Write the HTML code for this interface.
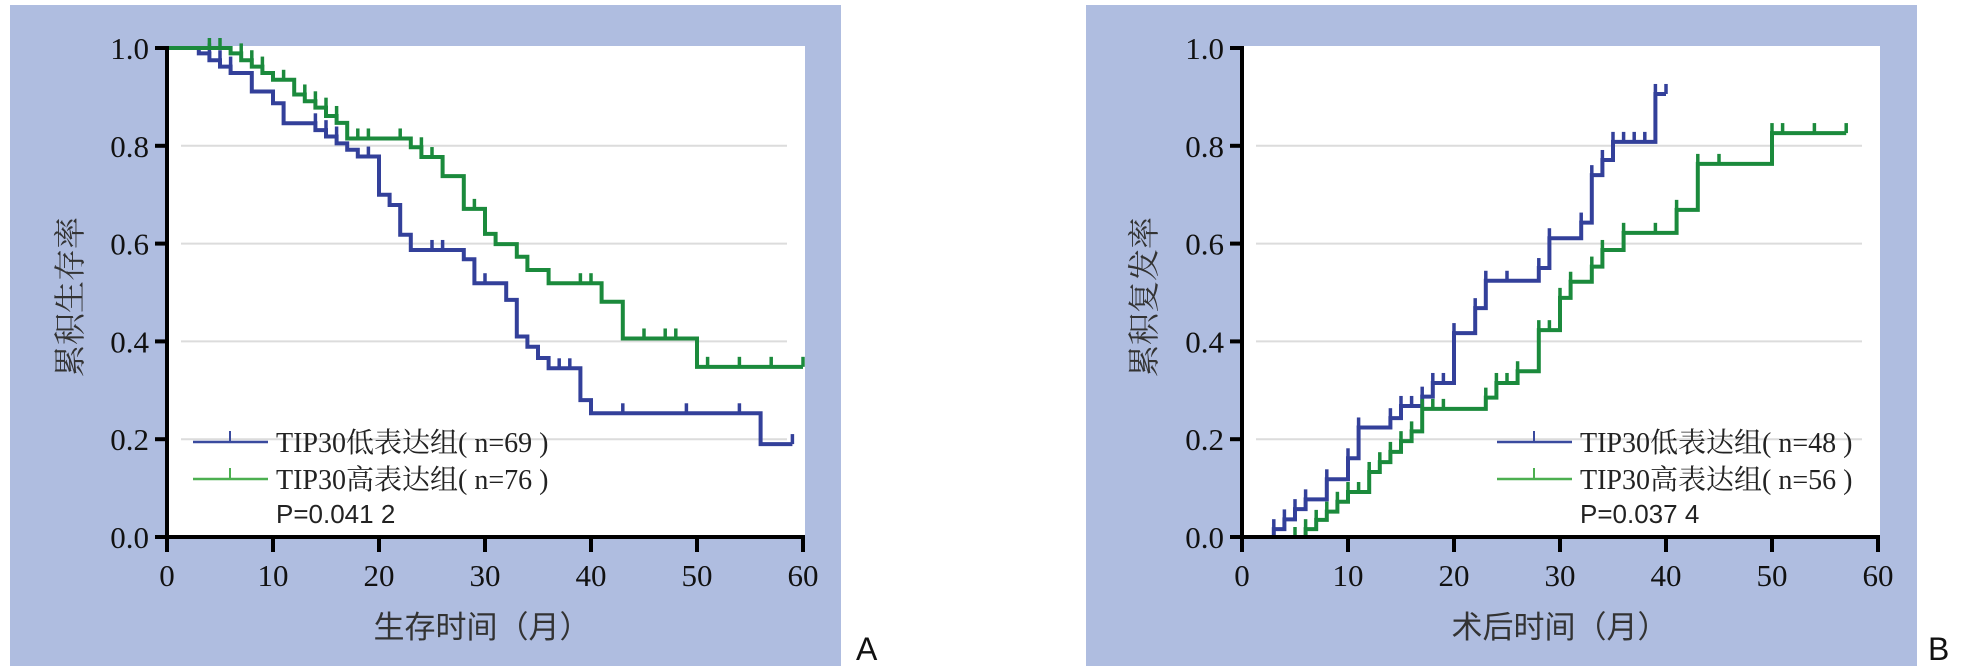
<!DOCTYPE html>
<html><head><meta charset="utf-8">
<style>
html,body{margin:0;padding:0;background:#fff;}
svg{display:block;}
.tl{font-family:"Liberation Serif",serif;font-size:31px;fill:#111;}
.lg{font-family:"Liberation Serif","Noto Serif CJK SC",serif;font-size:28px;fill:#222;}
.pv{font-family:"Liberation Sans",sans-serif;font-size:26px;fill:#222;}
.yt{font-family:"Liberation Serif","Noto Serif CJK SC",serif;font-size:32px;fill:#333;}
.xt{font-family:"Liberation Sans","Noto Sans CJK SC",sans-serif;font-size:31px;fill:#333;}
.pl{font-family:"Liberation Sans",sans-serif;font-size:32px;fill:#111;}
</style></head>
<body>
<svg id="chart" width="1978" height="672" viewBox="0 0 1978 672" xmlns="http://www.w3.org/2000/svg">
<rect x="0" y="0" width="1978" height="672" fill="#fff"/>
</svg>
<script>
const xTicks = [0,10,20,30,40,50,60];
const yTicks = [0.0,0.2,0.4,0.6,0.8,1.0];
const yTickLabels = ["0.0","0.2","0.4","0.6","0.8","1.0"];

// Panel A: survival
const aLowTimes = [0,3,4,5,6,8,10,11,14,15,16,17,18,20,21,22,23,28,29,32,33,34,35,36,39,40,56];
const aLowVals = [1,0.989,0.975,0.962,0.949,0.911,0.887,0.846,0.832,0.819,0.805,0.792,0.778,0.70,0.679,0.618,0.587,0.568,0.519,0.485,0.41,0.389,0.366,0.345,0.28,0.253,0.19];
const aLowEnd = 59;
const aLowCensor = [4,5,6,14,15,16,19,25,26,30,37,38,43,49,54,59];
const aHighTimes = [0,6,7,8,9,10,12,13,14,15,16,17,23,24,26,28,30,31,33,34,36,41,43,50];
const aHighVals = [1,0.989,0.975,0.962,0.949,0.935,0.905,0.891,0.878,0.861,0.847,0.815,0.797,0.777,0.738,0.671,0.62,0.599,0.573,0.546,0.519,0.481,0.406,0.348];
const aHighEnd = 60;
const aHighCensor = [4,5,7,8,9,11,13,14,15,16,18,19,22,24,25,29,39,40,45,47,48,51,54,57,60];

// Panel B: recurrence
const bLowTimes = [0,3,4,5,6,8,10,11,14,15,17,18,20,22,23,28,29,32,33,34,35,39];
const bLowVals = [0,0.016,0.036,0.057,0.077,0.118,0.161,0.224,0.243,0.268,0.287,0.315,0.417,0.468,0.524,0.55,0.611,0.643,0.74,0.771,0.808,0.906];
const bLowEnd = 40;
const bLowCensor = [3,4,5,6,8,10,11,14,15,16,17,18,19,20,22,23,25,28,29,32,33,34,35,36,37,38,39,40];
const bHighTimes = [0,6,7,8,9,10,12,13,14,15,16,17,23,24,26,28,30,31,33,34,36,41,43,50];
const bHighVals = [0,0.016,0.035,0.052,0.072,0.092,0.133,0.153,0.174,0.196,0.216,0.262,0.285,0.315,0.339,0.423,0.489,0.522,0.553,0.587,0.622,0.669,0.763,0.826];
const bHighEnd = 57;
const bHighCensor = [5,6,7,8,9,10,11,12,13,14,15,16,17,18,19,23,24,25,26,28,29,30,31,33,34,36,39,41,43,45,50,51,54,57];

const NS = "http://www.w3.org/2000/svg";
const svg = document.getElementById('chart');
const BLUE = "#33409a", GREEN = "#1b8a3c";

function mk(tag, attrs, parent){
  const e = document.createElementNS(NS, tag);
  for (const k in attrs) e.setAttribute(k, attrs[k]);
  (parent||svg).appendChild(e);
  return e;
}

function panel(cfg){
  const g = mk('g', {});
  
  
  const X0 = cfg.x0, X1 = X0 + 636, Y0 = 537, Y1 = 48;
  const sx = t => X0 + (t/60)*(X1-X0);
  const sy = v => Y0 - v*(Y0-Y1);
  const bg = mk('rect', {x:cfg.bgx, y:5, width:831, height:661, fill:"#afbde0"}, g);
  
  
  const pa = mk('rect', {x:X0, y:46, width:X1-X0+2, height:493, fill:"#ffffff"}, g);
  
  
  // gridlines
  for (let i=1;i<yTicks.length-1;i++){
    const gl = mk('line', {x1:X0+14, x2:X1-16, y1:sy(yTicks[i]), y2:sy(yTicks[i]), stroke:"#dcdcdc", "stroke-width":2}, g);
    
    
  }
  // series
  function series(times, vals, end, censor, color, rising, nm){
    let d = "M" + sx(times[0]) + "," + sy(vals[0]);
    for (let i=1;i<times.length;i++){
      d += " H" + sx(times[i]) + " V" + sy(vals[i]);
    }
    d += " H" + sx(end);
    const p = mk('path', {d:d, fill:"none", stroke:color, "stroke-width":4, "stroke-linejoin":"miter"}, g);
    
    
    censor.forEach(t => {
      let v = vals[0];
      for (let i=0;i<times.length;i++){
        if (rising ? times[i] <= t : times[i] < t) v = vals[i];
      }
      const c = mk('line', {x1:sx(t), x2:sx(t), y1:sy(v), y2:sy(v)-10, stroke:color, "stroke-width":3.5}, g);
      
      
    });
  }
  series(cfg.lowT, cfg.lowV, cfg.lowE, cfg.lowC, BLUE, cfg.rising, 'low-expression');
  series(cfg.highT, cfg.highV, cfg.highE, cfg.highC, GREEN, cfg.rising, 'high-expression');
  // axes
  const ya = mk('line', {x1:X0, x2:X0, y1:46, y2:539, stroke:"#000", "stroke-width":4}, g);
  
  
  const xa = mk('line', {x1:X0-2, x2:X1+2, y1:Y0, y2:Y0, stroke:"#000", "stroke-width":4}, g);
  
  
  yTicks.forEach((v,i) => {
    const tk = mk('line', {x1:X0-12, x2:X0, y1:sy(v), y2:sy(v), stroke:"#000", "stroke-width":4}, g);
    
    
    const tx = mk('text', {x:X0-18, y:sy(v)+11, "text-anchor":"end", class:"tl"}, g);
    tx.textContent = yTickLabels[i];
    
    
  });
  xTicks.forEach(t => {
    const tk = mk('line', {x1:sx(t), x2:sx(t), y1:Y0, y2:Y0+15, stroke:"#000", "stroke-width":4}, g);
    
    
    const tx = mk('text', {x:sx(t), y:586, "text-anchor":"middle", class:"tl"}, g);
    tx.textContent = String(t);
    
    
  });
  // titles
  const yt = mk('text', {x:0, y:0, "text-anchor":"middle", class:"yt", transform:"translate("+cfg.ytx+",297) rotate(-90)"}, g);
  yt.textContent = cfg.ytitle;
  
  
  const xt = mk('text', {x:cfg.xtx, y:638, "text-anchor":"middle", class:"xt"}, g);
  xt.textContent = cfg.xtitle;
  
  
  // legend
  const L = cfg.legx;
  [[442, "#3a4a9e", cfg.lowLabel, 'legend-entry-low'], [479, "#4caf50", cfg.highLabel, 'legend-entry-high']].forEach(r => {
    const le = mk('g', {}, g);
    
    
    mk('line', {x1:L, x2:L+75, y1:r[0], y2:r[0], stroke:r[1], "stroke-width":2.5}, le);
    mk('line', {x1:L+37, x2:L+37, y1:r[0], y2:r[0]-11, stroke:r[1], "stroke-width":2}, le);
    const t = mk('text', {x:L+83, y:r[0]+10, class:"lg"}, le);
    t.textContent = r[2];
  });
  const pv = mk('text', {x:L+83, y:523, class:"pv"}, g);
  pv.textContent = cfg.pval;
  
  
  const pl = mk('text', {x:cfg.plx, y:660, class:"pl"}, g);
  pl.textContent = cfg.plabel;
  
  
}

panel({name:'panel-a-survival', x0:167, bgx:10, lowT:aLowTimes, lowV:aLowVals, lowE:aLowEnd, lowC:aLowCensor,
  highT:aHighTimes, highV:aHighVals, highE:aHighEnd, highC:aHighCensor, rising:false,
  ytitle:"累积生存率", ytx:81, xtitle:"生存时间（月）", xtx:482, legx:193,
  lowLabel:"TIP30低表达组( n=69 )", highLabel:"TIP30高表达组( n=76 )", pval:"P=0.041 2", plabel:"A", plx:856});
panel({name:'panel-b-recurrence', x0:1242, bgx:1086, lowT:bLowTimes, lowV:bLowVals, lowE:bLowEnd, lowC:bLowCensor,
  highT:bHighTimes, highV:bHighVals, highE:bHighEnd, highC:bHighCensor, rising:true,
  ytitle:"累积复发率", ytx:1155, xtitle:"术后时间（月）", xtx:1560, legx:1497,
  lowLabel:"TIP30低表达组( n=48 )", highLabel:"TIP30高表达组( n=56 )", pval:"P=0.037 4", plabel:"B", plx:1928});
</script>
</body></html>
